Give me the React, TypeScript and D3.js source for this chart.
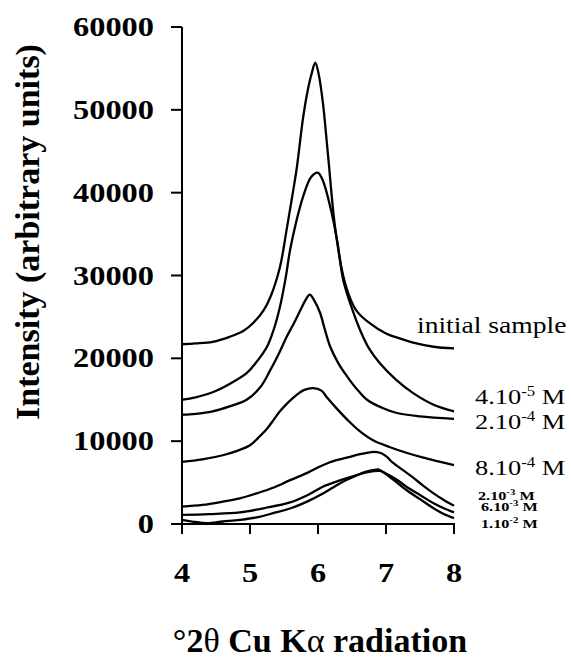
import React from "react";
import * as d3 from "d3";

// ---- data ----
const xTicks = [4, 5, 6, 7, 8];
const yTicks = [0, 10000, 20000, 30000, 40000, 50000, 60000];

const initialX = [4.0, 4.2, 4.45, 4.7, 4.9, 5.05, 5.2, 5.3, 5.44, 5.54, 5.62, 5.69, 5.78, 5.85, 5.91, 5.96, 6.01, 6.07, 6.15, 6.25, 6.37, 6.47, 6.57, 6.75, 7.0, 7.2, 7.4, 7.7, 8.0];
const initialY = [21700, 21800, 22000, 22600, 23300, 24300, 25800, 27400, 31000, 35600, 39500, 43100, 49000, 52400, 54500, 55700, 54300, 51000, 44300, 35900, 30000, 27300, 25700, 24300, 23000, 22400, 21900, 21400, 21200];

const m4e5X = [4.0, 4.2, 4.45, 4.7, 4.95, 5.1, 5.25, 5.35, 5.44, 5.52, 5.59, 5.68, 5.78, 5.9, 6.0, 6.07, 6.18, 6.28, 6.37, 6.5, 6.62, 6.75, 6.91, 7.15, 7.4, 7.7, 8.0];
const m4e5Y = [15000, 15300, 15900, 16900, 18200, 19600, 21400, 23500, 26200, 29500, 33100, 36500, 39500, 41900, 42400, 41500, 38300, 34300, 29500, 26000, 23400, 21200, 19400, 17400, 15800, 14400, 13600];

const m2e4X = [4.0, 4.2, 4.45, 4.7, 4.95, 5.15, 5.3, 5.42, 5.54, 5.65, 5.74, 5.82, 5.88, 5.95, 6.03, 6.1, 6.18, 6.3, 6.43, 6.57, 6.72, 6.95, 7.16, 7.5, 8.0];
const m2e4Y = [13200, 13300, 13600, 14200, 15000, 16500, 18600, 20500, 22600, 24300, 25800, 27100, 27700, 26900, 25500, 23500, 21400, 19400, 17800, 16300, 15000, 14000, 13400, 13000, 12700];

const m8e4X = [4.0, 4.3, 4.6, 4.8, 5.0, 5.12, 5.25, 5.35, 5.44, 5.54, 5.63, 5.72, 5.8, 5.93, 6.05, 6.13, 6.28, 6.43, 6.6, 6.81, 7.05, 7.3, 7.55, 7.8, 8.0];
const m8e4Y = [7500, 7800, 8300, 8800, 9500, 10400, 11500, 12600, 13600, 14500, 15200, 15800, 16200, 16400, 16100, 15300, 13900, 12600, 11300, 10100, 9300, 8600, 8000, 7500, 7100];

const m2e3X = [4.0, 4.3, 4.6, 4.85, 5.1, 5.35, 5.59, 5.85, 6.07, 6.27, 6.47, 6.6, 6.72, 6.82, 6.91, 7.0, 7.1, 7.25, 7.4, 7.55, 7.7, 7.85, 8.0];
const m2e3Y = [2100, 2300, 2700, 3100, 3700, 4400, 5300, 6200, 7100, 7700, 8100, 8400, 8600, 8700, 8600, 8200, 7400, 6500, 5600, 4600, 3700, 2900, 2200];

const m6e3X = [4.0, 4.4, 4.85, 5.2, 5.59, 5.85, 6.07, 6.3, 6.57, 6.75, 6.91, 7.0, 7.15, 7.3, 7.5, 7.7, 7.85, 8.0];
const m6e3Y = [1100, 1200, 1400, 1900, 2600, 3500, 4500, 5200, 5900, 6300, 6400, 6100, 5400, 4500, 3500, 2500, 1900, 1400];

const m1e2X = [4.0, 4.15, 4.37, 4.6, 4.85, 5.1, 5.34, 5.6, 5.84, 6.08, 6.32, 6.55, 6.7, 6.81, 6.88, 6.95, 7.1, 7.3, 7.5, 7.7, 7.85, 8.0];
const m1e2Y = [500, 300, 100, 300, 500, 800, 1300, 1900, 2700, 3700, 4900, 5800, 6300, 6500, 6600, 6300, 5400, 4100, 3000, 1900, 1200, 700];

const seriesNames = ["initial sample", "4.10-5 M", "2.10-4 M", "8.10-4 M", "2.10-3 M", "6.10-3 M", "1.10-2 M"];
const seriesXs = [initialX, m4e5X, m2e4X, m8e4X, m2e3X, m6e3X, m1e2X];
const seriesYs = [initialY, m4e5Y, m2e4Y, m8e4Y, m2e3Y, m6e3Y, m1e2Y];

const FONT = "'Liberation Serif', 'Times New Roman', serif";

export default function App() {
  const x = d3.scaleLinear().domain([4, 8]).range([182, 454]);
  const y = d3.scaleLinear().domain([0, 60000]).range([524, 27]);
  const line = d3
    .line<[number, number]>()
    .x((d) => x(d[0]))
    .y((d) => y(d[1]))
    .curve(d3.curveCatmullRom.alpha(0.5));

  const sx = 1.2;

  const bigLabel = (base: string, sup: string, bx: number, by: number, key: string) => (
    <text key={key} transform={`translate(${bx},${by}) scale(${sx},1)`} fontFamily={FONT} fontSize={22} fill="#000">
      {base}
      <tspan fontSize={14} dy={-8}>{sup}</tspan>
      <tspan dy={8}> M</tspan>
    </text>
  );
  const smallLabel = (base: string, sup: string, bx: number, by: number, key: string) => (
    <text key={key} transform={`translate(${bx},${by}) scale(${sx},1)`} fontFamily={FONT} fontSize={13.5} fontWeight="bold" fill="#000">
      {base}
      <tspan fontSize={9} dy={-5}>{sup}</tspan>
      <tspan dy={5}> M</tspan>
    </text>
  );

  return (
    <svg
      width={571}
      height={659}
      style={{ position: "absolute", left: 0, top: 0, background: "#fff" }}
    >
      <rect x={0} y={0} width={571} height={659} fill="#fff" />
      {/* curves */}
      {seriesXs.map((xs, i) => (
        <path
          key={seriesNames[i]}
          d={line(xs.map((v, j) => [v, seriesYs[i][j]] as [number, number])) || ""}
          fill="none"
          stroke="#000"
          strokeWidth={2.3}
          strokeLinejoin="round"
        />
      ))}

      {/* y axis */}
      <line x1={x(4)} x2={x(4)} y1={y(60000)} y2={y(0) + 10} stroke="#000" strokeWidth={2} />
      {yTicks.map((t) => (
        <g key={t}>
          <line x1={x(4) - 11} x2={x(4)} y1={y(t)} y2={y(t)} stroke="#000" strokeWidth={2} />
          <text
            transform={`translate(154,${y(t) + 9}) scale(${sx},1)`}
            textAnchor="end"
            fontFamily={FONT}
            fontWeight="bold"
            fontSize={27}
            fill="#000"
          >
            {t}
          </text>
        </g>
      ))}

      {/* x axis */}
      <line x1={x(4) - 11} x2={x(8) + 1} y1={y(0)} y2={y(0)} stroke="#000" strokeWidth={2} />
      {xTicks.map((t) => (
        <g key={t}>
          <line x1={x(t)} x2={x(t)} y1={y(0)} y2={y(0) + 10} stroke="#000" strokeWidth={2} />
          <text
            transform={`translate(${x(t)},582) scale(${sx},1)`}
            textAnchor="middle"
            fontFamily={FONT}
            fontWeight="bold"
            fontSize={27}
            fill="#000"
          >
            {t}
          </text>
        </g>
      ))}

      {/* axis titles */}
      <text x={320} y={652} textAnchor="middle" fontFamily={FONT} fontWeight="bold" fontSize={34} fill="#000">
        °2<tspan fontWeight="normal">θ</tspan> Cu K<tspan fontWeight="normal">α</tspan> radiation
      </text>
      <text
        transform="translate(39,232) rotate(-90)"
        textAnchor="middle"
        fontFamily={FONT}
        fontWeight="bold"
        fontSize={34}
        fill="#000"
      >
        Intensity (arbitrary units)
      </text>

      {/* series labels */}
      <text transform={`translate(417,333) scale(${sx},1)`} fontFamily={FONT} fontSize={23} fill="#000">
        {seriesNames[0]}
      </text>
      {bigLabel("4.10", "-5", 475, 404, "l1")}
      {bigLabel("2.10", "-4", 475, 429, "l2")}
      {bigLabel("8.10", "-4", 475, 475, "l3")}
      {smallLabel("2.10", "-3", 478, 500, "l4")}
      {smallLabel("6.10", "-3", 481, 511, "l5")}
      {smallLabel("1.10", "-2", 481, 528, "l6")}
    </svg>
  );
}
